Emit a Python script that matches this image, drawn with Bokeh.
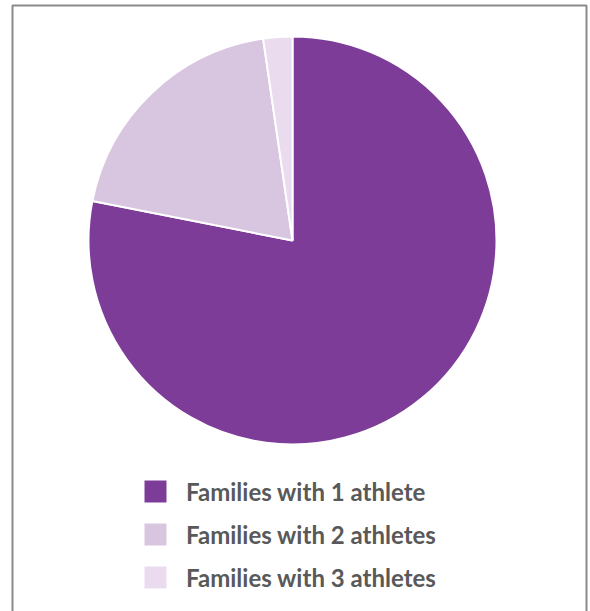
import math
from bokeh.plotting import figure
from bokeh.models import ColumnDataSource, Range1d, Legend, LegendItem
from bokeh.embed import file_html
from bokeh.resources import INLINE

# Data
categories = ["Families with 1 athlete", "Families with 2 athletes", "Families with 3 athletes"]
shares = [78.1, 19.6, 2.3]
colors = ["#7D3C98", "#D8C6E1", "#EADCEE"]

W, H = 590, 611
p = figure(width=W, height=H, output_backend="svg", toolbar_location=None,
           x_range=Range1d(0, W), y_range=Range1d(0, H), min_border=0)
p.axis.visible = False
p.grid.visible = False
p.outline_line_color = None
p.background_fill_color = "white"

total = sum(shares)
starts, ends = [], []
cum = 0.0
for s in shares:
    a0 = math.pi / 2 - 2 * math.pi * cum / total
    cum += s
    a1 = math.pi / 2 - 2 * math.pi * cum / total
    starts.append(a1)
    ends.append(a0)

cx, cy, r = 292, 371, 204
src = ColumnDataSource(dict(cat=categories, share=shares, color=colors,
                            start=starts, end=ends))
wr = p.wedge(x=cx, y=cy, radius=r, start_angle="start", end_angle="end",
             fill_color="color", line_color="white", line_width=2, source=src)

# frame border (left, top, right)
p.line(x=[12, 12, 586, 586], y=[-10, 606, 606, -10], line_color="#8a8a8a", line_width=2)

items = [LegendItem(label=c, renderers=[wr], index=i) for i, c in enumerate(categories)]
legend = Legend(items=items, location=(140, 19), orientation="vertical",
                glyph_width=30, glyph_height=30, label_height=30, spacing=13,
                label_standoff=16, padding=0, margin=0,
                border_line_color=None, background_fill_alpha=0,
                label_text_font="Lato", label_text_font_style="bold",
                label_text_font_size="24px", label_text_color="#595959")
p.add_layout(legend, "center")

open("out.html", "w").write(file_html(p, INLINE))
